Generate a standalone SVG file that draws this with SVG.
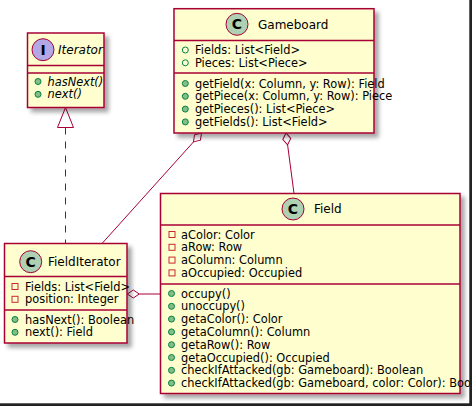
<svg xmlns="http://www.w3.org/2000/svg" width="472" height="406" viewBox="0 0 472 406">
<defs>
<filter id="sh" x="-10%" y="-10%" width="130%" height="130%">
<feGaussianBlur in="SourceAlpha" stdDeviation="2"/>
<feOffset dx="4" dy="4" result="b"/>
<feFlood flood-color="#000" flood-opacity="0.35"/>
<feComposite in2="b" operator="in"/>
<feMerge><feMergeNode/><feMergeNode in="SourceGraphic"/></feMerge>
</filter>
</defs>
<style>
.box{fill:#FEFECE;stroke:#A80036;stroke-width:1.5;filter:url(#sh)}
.sep{stroke:#A80036;stroke-width:1.5}
.ci{fill:#ADD1B2;stroke:#A80036;stroke-width:1}
.ii{fill:#B4A7E5;stroke:#A80036;stroke-width:1}
.cl{font-family:"DejaVu Sans",sans-serif;font-size:14px;font-weight:bold;fill:#000;text-anchor:middle}
.t{font-family:"DejaVu Sans",sans-serif;font-size:12px;fill:#000}
.ti{font-family:"DejaVu Sans",sans-serif;font-size:12px;font-style:italic;fill:#000}
.m{font-family:"DejaVu Sans",sans-serif;font-size:11.4px;fill:#000}
.mi{font-family:"DejaVu Sans",sans-serif;font-size:11.4px;font-style:italic;fill:#000}
.pubm{fill:#84BE84;stroke:#038048;stroke-width:1}
.pubf{fill:none;stroke:#038048;stroke-width:1}
.prif{fill:none;stroke:#C82930;stroke-width:1}
.ln{stroke:#A80036;stroke-width:1;fill:none}
.dia{fill:#fff;stroke:#A80036;stroke-width:1}
</style>
<rect width="472" height="406" fill="#fff"/>

<g id="connectors">
<path class="ln" d="M65.5,127.5 L65.5,243.5" stroke-dasharray="7,7"/>
<polygon class="dia" points="65.5,107.5 57.5,127.5 73.5,127.5"/>
<path class="ln" d="M193.5,141.9 L102,243.5"/>
<path class="dia" d="M0,0 L-6,-4 L-12,0 L-6,4 Z" transform="translate(201.5,133) rotate(-48)"/>
<path class="ln" d="M287.6,144.9 L294,193.5"/>
<path class="dia" d="M0,0 L-6,-4 L-12,0 L-6,4 Z" transform="translate(286,133) rotate(-97.5)"/>
<path class="ln" d="M139.3,294 L160.5,294"/>
<path class="dia" d="M0,0 L-6,-4 L-12,0 L-6,4 Z" transform="translate(127.3,294) rotate(180)"/>
</g>

<g id="Iterator">
<rect class="box" x="27.5" y="33" width="76.5" height="74.5"/>
<line class="sep" x1="27.5" y1="65.5" x2="104" y2="65.5"/>
<line class="sep" x1="27.5" y1="73" x2="104" y2="73"/>
<circle class="ii" cx="43" cy="49.7" r="11"/>
<text class="cl" x="43" y="54.8">I</text>
<text class="ti" x="58" y="54">Iterator</text>
<circle class="pubm" cx="38" cy="81.5" r="3"/>
<text class="mi" x="47.5" y="85.5">hasNext()</text>
<circle class="pubm" cx="38" cy="94.3" r="3"/>
<text class="mi" x="47.5" y="98.3">next()</text>
</g>

<g id="Gameboard">
<rect class="box" x="174" y="8.7" width="200" height="124.3"/>
<line class="sep" x1="174" y1="40.5" x2="374" y2="40.5"/>
<line class="sep" x1="174" y1="73" x2="374" y2="73"/>
<circle class="ci" cx="237" cy="24.3" r="11"/>
<text class="cl" x="237" y="29.4">C</text>
<text class="t" x="258" y="28.6">Gameboard</text>
<circle class="pubf" cx="185.3" cy="50" r="3"/>
<text class="m" x="195" y="54">Fields: List&lt;Field&gt;</text>
<circle class="pubf" cx="185.3" cy="62.8" r="3"/>
<text class="m" x="195" y="66.8">Pieces: List&lt;Piece&gt;</text>
<circle class="pubm" cx="185.3" cy="83.5" r="3"/>
<text class="m" x="195" y="87.5">getField(x: Column, y: Row): Field</text>
<circle class="pubm" cx="185.3" cy="96.3" r="3"/>
<text class="m" x="195" y="100.3">getPiece(x: Column, y: Row): Piece</text>
<circle class="pubm" cx="185.3" cy="109.1" r="3"/>
<text class="m" x="195" y="113.1">getPieces(): List&lt;Piece&gt;</text>
<circle class="pubm" cx="185.3" cy="121.9" r="3"/>
<text class="m" x="195" y="125.9">getFields(): List&lt;Field&gt;</text>
</g>

<g id="FieldIterator">
<rect class="box" x="4.5" y="243.5" width="122.5" height="99.5"/>
<line class="sep" x1="4.5" y1="276.5" x2="127" y2="276.5"/>
<line class="sep" x1="4.5" y1="310" x2="127" y2="310"/>
<circle class="ci" cx="30.7" cy="261.7" r="11"/>
<text class="cl" x="30.7" y="266.8">C</text>
<text class="t" x="48" y="266">FieldIterator</text>
<rect class="prif" x="12" y="283.5" width="6" height="6"/>
<text class="m" x="25" y="290.5">Fields: List&lt;Field&gt;</text>
<rect class="prif" x="12" y="296.3" width="6" height="6"/>
<text class="m" x="25" y="303.3">position: Integer</text>
<circle class="pubm" cx="15" cy="319.5" r="3"/>
<text class="m" x="25" y="323.5">hasNext(): Boolean</text>
<circle class="pubm" cx="15" cy="332.3" r="3"/>
<text class="m" x="25" y="336.3">next(): Field</text>
</g>

<g id="Field">
<rect class="box" x="160.5" y="193.5" width="299.5" height="200"/>
<line class="sep" x1="160.5" y1="225" x2="460" y2="225"/>
<line class="sep" x1="160.5" y1="284" x2="460" y2="284"/>
<circle class="ci" cx="293" cy="209" r="11"/>
<text class="cl" x="293" y="214.1">C</text>
<text class="t" x="314" y="213.4">Field</text>
<rect class="prif" x="169" y="231.5" width="6" height="6"/>
<text class="m" x="181" y="238.5">aColor: Color</text>
<rect class="prif" x="169" y="244.3" width="6" height="6"/>
<text class="m" x="181" y="251.3">aRow: Row</text>
<rect class="prif" x="169" y="257.1" width="6" height="6"/>
<text class="m" x="181" y="264.1">aColumn: Column</text>
<rect class="prif" x="169" y="269.9" width="6" height="6"/>
<text class="m" x="181" y="276.9">aOccupied: Occupied</text>
<circle class="pubm" cx="171.5" cy="293.5" r="3"/>
<text class="m" x="181" y="297.5">occupy()</text>
<circle class="pubm" cx="171.5" cy="306.3" r="3"/>
<text class="m" x="181" y="310.3">unoccupy()</text>
<circle class="pubm" cx="171.5" cy="319.1" r="3"/>
<text class="m" x="181" y="323.1">getaColor(): Color</text>
<circle class="pubm" cx="171.5" cy="331.9" r="3"/>
<text class="m" x="181" y="335.9">getaColumn(): Column</text>
<circle class="pubm" cx="171.5" cy="344.7" r="3"/>
<text class="m" x="181" y="348.7">getaRow(): Row</text>
<circle class="pubm" cx="171.5" cy="357.5" r="3"/>
<text class="m" x="181" y="361.5">getaOccupied(): Occupied</text>
<circle class="pubm" cx="171.5" cy="370.3" r="3"/>
<text class="m" x="181" y="374.3">checkIfAttacked(gb: Gameboard): Boolean</text>
<circle class="pubm" cx="171.5" cy="383.1" r="3"/>
<text class="m" x="181" y="387.1">checkIfAttacked(gb: Gameboard, color: Color): Boolean</text>
</g>

<rect x="469.3" y="0" width="2.7" height="406" fill="#222"/>
<rect x="0" y="403.3" width="472" height="2.7" fill="#222"/>
</svg>
